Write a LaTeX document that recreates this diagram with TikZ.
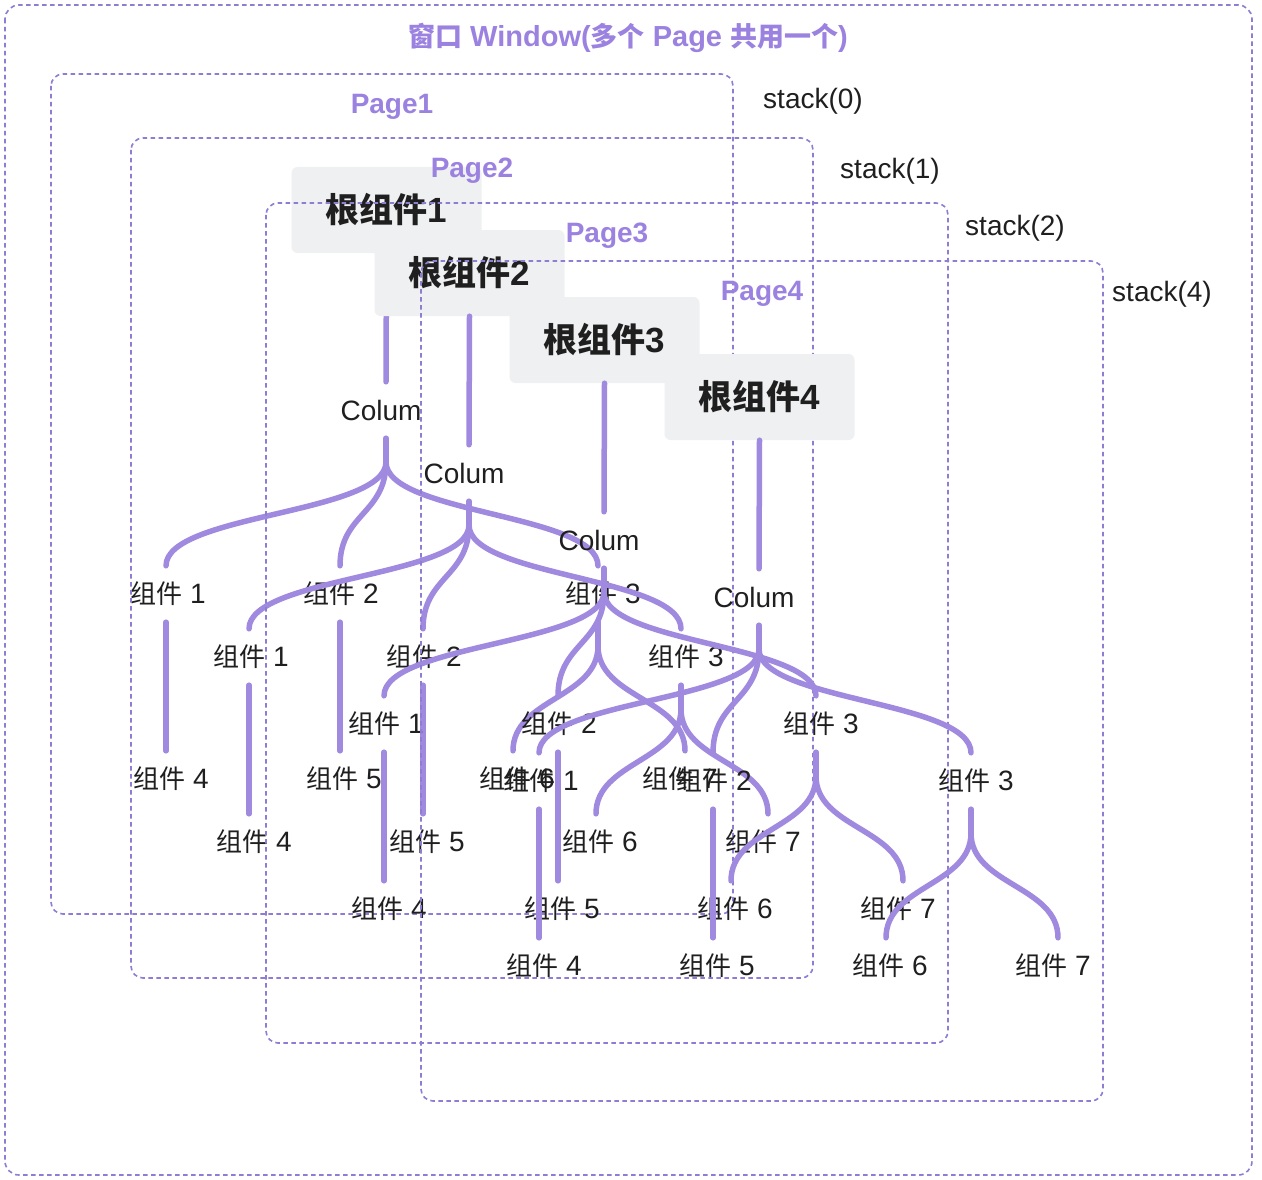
\documentclass[tikz,border=0pt]{standalone}
\usepackage{fontspec}
\setmainfont{Liberation Sans}
\newfontfamily\cjk{Noto Sans CJK SC}
\definecolor{framec}{HTML}{8E7DD3}
\definecolor{linec}{HTML}{A08AE0}
\definecolor{titlec}{HTML}{9C82E0}
\definecolor{boxc}{HTML}{EFF0F1}
\definecolor{txt}{HTML}{1F1F1F}
\newcommand\zj[1]{{\cjk\fontsize{26}{30}\selectfont 组件}\ #1}
\newcommand\rootlbl[1]{{\cjk\bfseries\fontsize{34}{40}\selectfont 根组件}{\bfseries\fontsize{35}{40}\selectfont #1}}
\tikzset{
  frame/.style={draw=framec, line width=1.6pt, dash pattern=on 4.5pt off 3.5pt, rounded corners=12pt},
  branch/.style={draw=linec, line width=5.5pt, line cap=round},
  rootbox/.style={fill=boxc, rounded corners=6pt, minimum width=190pt, minimum height=86pt, inner sep=0pt, text=txt},
  lbl/.style={inner sep=0pt, minimum height=56pt, text=txt, font=\fontsize{28}{32}\selectfont},
  ttl/.style={inner sep=0pt, text=titlec, font=\bfseries\fontsize{28}{32}\selectfont},
  stk/.style={inner sep=0pt, text=txt, font=\fontsize{28}{32}\selectfont},
}
\begin{document}
\begin{tikzpicture}[x=1pt,y=-1pt]
\useasboundingbox (0,0) rectangle (1262,1180);
\fill[white] (0,0) rectangle (1262,1180);
\draw[frame, rounded corners=14pt] (5,5) rectangle (1252,1175);
\node[ttl, font=\bfseries\fontsize{29}{32}\selectfont] (wt) at (628,38)
  {{\cjk\fontsize{27}{32}\selectfont 窗口} Window({\cjk\fontsize{27}{32}\selectfont 多个} Page {\cjk\fontsize{27}{32}\selectfont 共用一个})};
\foreach \i/\fx/\fy/\dx/\dy/\sx/\sy/\sn in {1/51/74/0/0/813/101/0, 2/131/138/83/63/890/171/1, 3/266/203/218/130/1015/228/2, 4/421/261/373/187/1162/294/4}{
  \draw[frame] (\fx,\fy) rectangle ++(682,840);
  \node[ttl] (pt\i) at (\fx+341,\fy+33) {Page\i};
  \node[stk] (sk\i) at (\sx,\sy) {stack(\sn)};
  \begin{scope}[shift={(\dx,\dy)}]
    \node[rootbox] (r\i) at (386.5,210) {\rootlbl{\i}};
    \node[lbl] (c\i) at (381,410) {Colum};
    \coordinate (j\i) at (386,462);
    \node[lbl] (a\i-1) at (168,594) {\zj{1}};
    \node[lbl] (a\i-2) at (341,594) {\zj{2}};
    \node[lbl] (a\i-3) at (603,594) {\zj{3}};
    \coordinate (k\i) at (598,646);
    \node[lbl] (b\i-4) at (171,779) {\zj{4}};
    \node[lbl] (b\i-5) at (344,779) {\zj{5}};
    \node[lbl] (b\i-6) at (517,779) {\zj{6}};
    \node[lbl] (b\i-7) at (680,779) {\zj{7}};
    \draw[branch] (r\i.south) -- ([xshift=5pt]c\i.north);
    \draw[branch] ([xshift=5pt]c\i.south) -- (j\i);
    \draw[branch] (j\i) .. controls +(0,52) and +(0,-52) .. ([xshift=-2pt]a\i-1.north);
    \draw[branch] (j\i) .. controls +(0,52) and +(0,-52) .. ([xshift=-1pt]a\i-2.north);
    \draw[branch] (j\i) .. controls +(0,52) and +(0,-52) .. ([xshift=-5pt]a\i-3.north);
    \draw[branch] ([xshift=-2pt]a\i-1.south) -- ([xshift=-5pt]b\i-4.north);
    \draw[branch] ([xshift=-1pt]a\i-2.south) -- ([xshift=-4pt]b\i-5.north);
    \draw[branch] ([xshift=-5pt]a\i-3.south) -- (k\i);
    \draw[branch] (k\i) .. controls +(0,52) and +(0,-52) .. ([xshift=-4pt]b\i-6.north);
    \draw[branch] (k\i) .. controls +(0,52) and +(0,-52) .. ([xshift=5pt]b\i-7.north);
  \end{scope}
}
\end{tikzpicture}
\end{document}
